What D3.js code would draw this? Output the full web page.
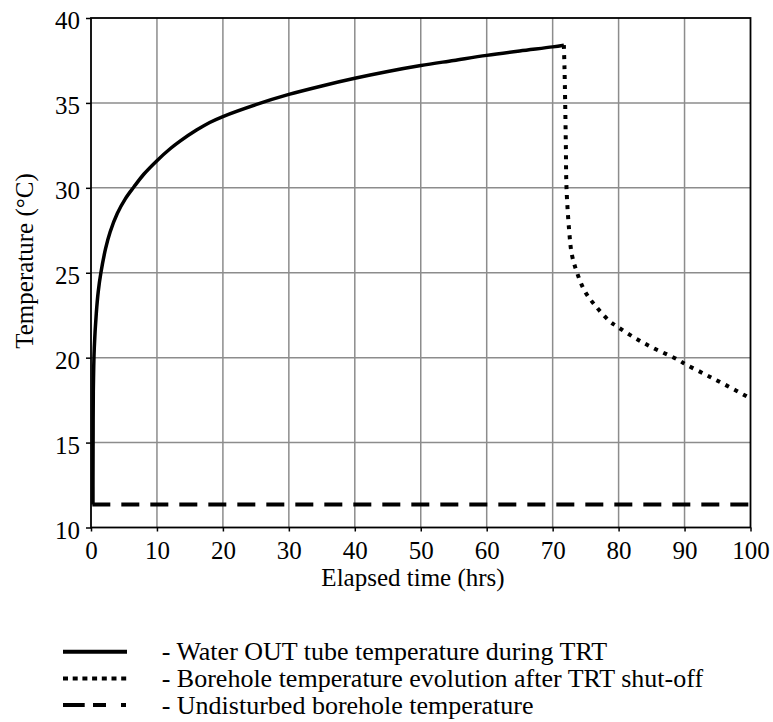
<!DOCTYPE html>
<meta charset="utf-8">
<body style="margin:0">
<svg width="773" height="722"></svg>
<script src="https://d3js.org/d3.v7.min.js"></script>
<script>

// readings taken off the original figure
var xTicks = [0, 10, 20, 30, 40, 50, 60, 70, 80, 90, 100];
var yTicks = [10, 15, 20, 25, 30, 35, 40];

// water OUT tube temperature during the test (hrs, °C)
var trtTime = [0.3, 0.3, 0.32, 0.35, 0.5, 0.8, 1.1, 1.5, 2.2, 2.9, 4, 5.2, 6.5, 8, 10, 12, 13.5, 16, 18, 20, 25, 30, 35, 40, 45, 50, 55, 60, 65, 70, 71.7];
var trtTemp = [11.35, 13, 15.5, 18, 20.6, 22.6, 23.9, 25, 26.4, 27.4, 28.5, 29.35, 30.05, 30.8, 31.6, 32.3, 32.75, 33.4, 33.85, 34.2, 34.9, 35.5, 36.0, 36.45, 36.85, 37.2, 37.5, 37.8, 38.06, 38.3, 38.4];

// borehole recovery after shut-off
var recTime = [71.7, 71.8, 71.9, 72.0, 72.1, 72.5, 72.9, 73.7, 74.9, 76.6, 78.6, 79.9, 82.3, 85.1, 88.9, 90.2, 92.9, 95.7, 100];
var recTemp = [38.4, 37, 35, 32.5, 30, 27.5, 26.1, 25.0, 23.9, 23.0, 22.16, 21.8, 21.2, 20.6, 19.9, 19.6, 19.06, 18.5, 17.6];

// undisturbed ground temperature
var groundTime = [0.2, 100];
var groundTemp = [11.35, 11.35];

var legendLabels = [
  "- Water OUT tube temperature during TRT",
  "- Borehole temperature evolution after TRT shut-off",
  "- Undisturbed borehole temperature"
];

var svg = d3.select("svg"),
    margin = {top: 18, left: 91},
    width = 659.5,
    height = 509.5,
    g = svg.append("g").attr("transform", "translate(" + margin.left + "," + margin.top + ")");

var x = d3.scaleLinear().domain([0, 100]).range([0, width]);
var y = d3.scaleLinear().domain([10, 40]).range([height, 0]);

// grid
g.append("g")
    .attr("stroke", "#8c8c8c")
    .attr("stroke-width", 1.5)
  .selectAll("line")
  .data(xTicks.slice(1, -1))
  .enter().append("line")
    .attr("x1", function(d) { return x(d); })
    .attr("x2", function(d) { return x(d); })
    .attr("y1", 0)
    .attr("y2", height);

g.append("g")
    .attr("stroke", "#8c8c8c")
    .attr("stroke-width", 1.5)
  .selectAll("line")
  .data(yTicks.slice(1, -1))
  .enter().append("line")
    .attr("x1", 0)
    .attr("x2", width)
    .attr("y1", function(d) { return y(d); })
    .attr("y2", function(d) { return y(d); });

// frame
g.append("rect")
    .attr("width", width)
    .attr("height", height)
    .attr("fill", "none")
    .attr("stroke", "#000")
    .attr("stroke-width", 1.8);

var xAxis = g.append("g")
    .attr("transform", "translate(0," + height + ")")
    .call(d3.axisBottom(x).tickValues(xTicks).tickSize(4).tickPadding(10));

var yAxis = g.append("g")
    .call(d3.axisLeft(y).tickValues(yTicks).tickSize(5).tickPadding(6));

[xAxis, yAxis].forEach(function(ax) {
  ax.attr("font-family", null).attr("font-size", 25);
  ax.select(".domain").remove();
  ax.selectAll(".tick line").attr("stroke-width", 1.5);
});
yAxis.selectAll("text").attr("dy", "0.42em");

svg.append("text")
    .attr("x", 413)
    .attr("y", 586)
    .attr("text-anchor", "middle")
    .attr("font-size", 25)
    .text("Elapsed time (hrs)");

svg.append("text")
    .attr("transform", "translate(33,261) rotate(-90)")
    .attr("text-anchor", "middle")
    .attr("font-size", 25)
    .text("Temperature (°C)");

var line = d3.line()
    .x(function(d) { return x(d[0]); })
    .y(function(d) { return y(d[1]); })
    .curve(d3.curveCatmullRom.alpha(0.5));

g.append("path")
    .datum(d3.zip(groundTime, groundTemp))
    .attr("fill", "none")
    .attr("stroke", "#000")
    .attr("stroke-width", 4)
    .attr("stroke-dasharray", "18,11")
    .attr("d", line);

g.append("path")
    .datum(d3.zip(trtTime, trtTemp))
    .attr("fill", "none")
    .attr("stroke", "#000")
    .attr("stroke-width", 3.5)
    .attr("d", line);

g.append("path")
    .datum(d3.zip(recTime, recTemp))
    .attr("fill", "none")
    .attr("stroke", "#000")
    .attr("stroke-width", 4)
    .attr("stroke-dasharray", "4,6")
    .attr("d", line);

// legend
var dashes = [null, "5,4.7", "21.7,8.3,13,15,5,100"];

var legend = svg.append("g")
  .selectAll("g")
  .data(legendLabels)
  .enter().append("g")
    .attr("transform", function(d, i) { return "translate(0," + (651.7 + i * 26.7) + ")"; });

legend.append("line")
    .attr("x1", 63)
    .attr("x2", 127)
    .attr("stroke", "#000")
    .attr("stroke-width", 4)
    .attr("stroke-dasharray", function(d, i) { return dashes[i]; });

legend.append("text")
    .attr("x", 161.7)
    .attr("y", 8.5)
    .attr("font-size", 26)
    .text(function(d) { return d; });

// serif face for every label, set last so nothing overrides it
svg.selectAll("text").style("font-family", "'Times New Roman'");

</script>
</body>
